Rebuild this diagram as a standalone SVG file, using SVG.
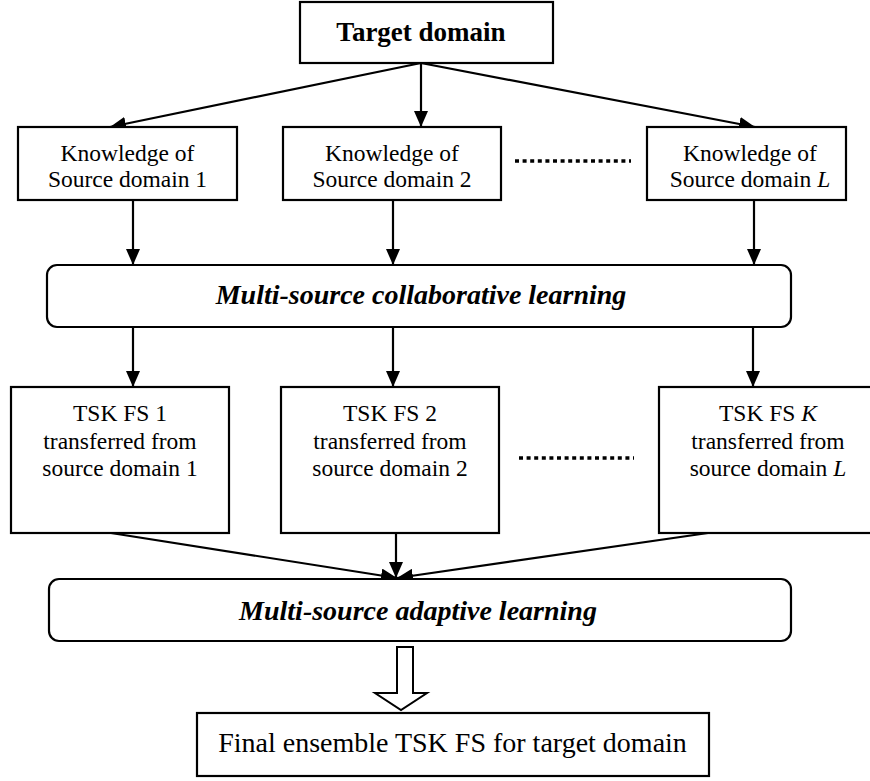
<svg xmlns="http://www.w3.org/2000/svg" width="870" height="781" viewBox="0 0 870 781">
<style>
.box{fill:#fff;stroke:#000;stroke-width:2.2}
.t{font-family:"Liberation Serif","Times New Roman",serif;fill:#000;text-anchor:middle}
.n{font-size:23.5px}
.h{font-size:27px;font-weight:bold}
.bi{font-size:28px;font-weight:bold;font-style:italic}
.f{font-size:28px}
.ln{stroke:#000;stroke-width:2.2;fill:none;marker-end:url(#ah)}
.dot{stroke:#000;stroke-width:3.5;stroke-dasharray:4 3.6;fill:none}
</style>
<defs>
<marker id="ah" viewBox="0 0 16 14" refX="16" refY="7" markerWidth="16" markerHeight="14" markerUnits="userSpaceOnUse" orient="auto">
<path d="M0,0 L16,7 L0,14 Z" fill="#000"/>
</marker>
</defs>
<rect width="870" height="781" fill="#fff"/>
<g id="connectors">
<line class="ln" x1="421" y1="63" x2="110" y2="127"/>
<line class="ln" x1="421" y1="63" x2="421" y2="127"/>
<line class="ln" x1="421" y1="63" x2="755" y2="127"/>
<line class="ln" x1="133" y1="200" x2="133" y2="265"/>
<line class="ln" x1="393" y1="200" x2="393" y2="265"/>
<line class="ln" x1="754" y1="200" x2="754" y2="265"/>
<line class="ln" x1="133" y1="327" x2="133" y2="387"/>
<line class="ln" x1="393" y1="327" x2="393" y2="387"/>
<line class="ln" x1="753" y1="327" x2="753" y2="387"/>
<line class="ln" x1="111" y1="533" x2="397" y2="578"/>
<line class="ln" x1="396" y1="533" x2="396" y2="578"/>
<line class="ln" x1="708" y1="533" x2="397" y2="578"/>
<line class="dot" x1="515" y1="161" x2="631" y2="161"/>
<line class="dot" x1="519" y1="458" x2="634" y2="458"/>
<polygon points="397,647 413,647 413,693 427,693 401,710 375,693 397,693" fill="#fff" stroke="#000" stroke-width="2"/>
</g>
<g id="target">
<rect class="box" x="300" y="2" width="253" height="61"/>
<text class="t h" x="421" y="41">Target domain</text>
</g>
<g id="know1">
<rect class="box" x="18" y="127" width="219" height="73"/>
<text class="t n" x="127.5" y="161">Knowledge of</text>
<text class="t n" x="127.5" y="187">Source domain 1</text>
</g>
<g id="know2">
<rect class="box" x="283" y="127" width="218" height="73"/>
<text class="t n" x="392" y="161">Knowledge of</text>
<text class="t n" x="392" y="187">Source domain 2</text>
</g>
<g id="knowL">
<rect class="box" x="647" y="127" width="199" height="73"/>
<text class="t n" x="750" y="161">Knowledge of</text>
<text class="t n" x="750" y="187">Source domain <tspan font-style="italic">L</tspan></text>
</g>
<g id="collab">
<rect class="box" x="47" y="265" width="744" height="62" rx="10"/>
<text class="t bi" x="421" y="304">Multi-source collaborative learning</text>
</g>
<g id="tsk1">
<rect class="box" x="11" y="387" width="218" height="146"/>
<text class="t n" x="120" y="421">TSK FS 1</text>
<text class="t n" x="120" y="448.5">transferred from</text>
<text class="t n" x="120" y="476">source domain 1</text>
</g>
<g id="tsk2">
<rect class="box" x="281" y="387" width="218" height="146"/>
<text class="t n" x="390" y="421">TSK FS 2</text>
<text class="t n" x="390" y="448.5">transferred from</text>
<text class="t n" x="390" y="476">source domain 2</text>
</g>
<g id="tskK">
<rect class="box" x="659" y="387" width="218" height="146"/>
<text class="t n" x="768" y="421">TSK FS <tspan font-style="italic">K</tspan></text>
<text class="t n" x="768" y="448.5">transferred from</text>
<text class="t n" x="768" y="476">source domain <tspan font-style="italic">L</tspan></text>
</g>
<g id="adaptive">
<rect class="box" x="49" y="579" width="742" height="62" rx="10"/>
<text class="t bi" x="418" y="620">Multi-source adaptive learning</text>
</g>
<g id="final">
<rect class="box" x="197" y="713" width="512" height="63"/>
<text class="t f" x="452.5" y="752">Final ensemble TSK FS for target domain</text>
</g>
</svg>
